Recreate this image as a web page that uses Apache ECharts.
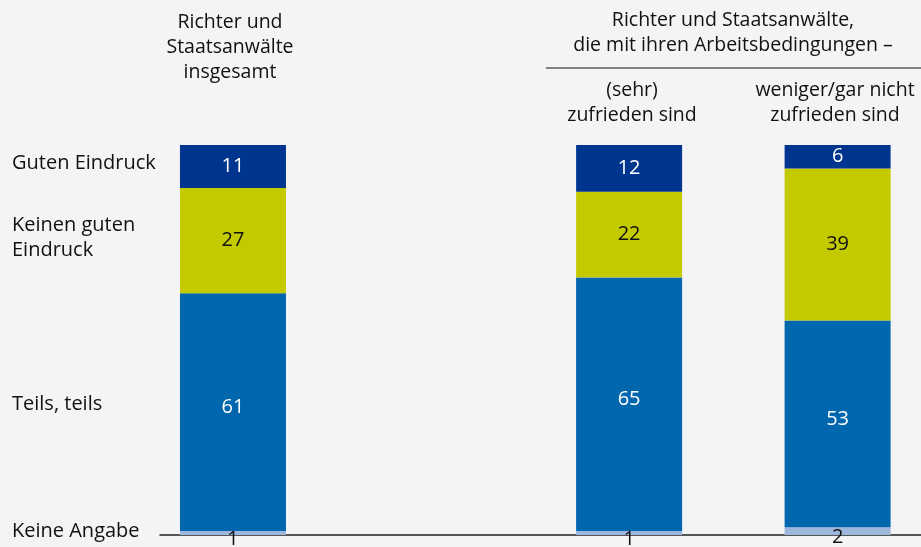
<!DOCTYPE html>
<html>
<head>
<meta charset="utf-8">
<script src="https://cdn.jsdelivr.net/npm/echarts@6/dist/echarts.min.js"></script>
<style>
html,body{margin:0;padding:0;background:#F4F4F7;}
#c{width:921px;height:547px;}
</style>
</head>
<body>
<div id="c"></div>
<script>
// ---- data ----
const groups = ['Richter und Staatsanwälte insgesamt', '(sehr) zufrieden sind', 'weniger/gar nicht zufrieden sind'];
const seriesNames = ['Keine Angabe', 'Teils, teils', 'Keinen guten Eindruck', 'Guten Eindruck'];
const keineAngabe = [1, 1, 2];
const teilsTeils = [61, 65, 53];
const keinenGuten = [27, 22, 39];
const gutenEindruck = [11, 12, 6];

// ---- layout: the x axis is a row of narrow slots; each group sits on one slot ----
const SLOT_COUNT = 74;
const groupSlots = [7, 45, 65];

const FONT = '"Open Sans", "Noto Sans", sans-serif';
const colors = ['#9DB6DB', '#0066AE', '#C4CA00', '#00358F'];
const labelColors = ['#111', '#fff', '#111', '#fff'];
const labelOffsets = [[0, 6], [0, -5], [0, 0], [0, 0]];
const values = [keineAngabe, teilsTeils, keinenGuten, gutenEindruck];

const categories = [];
for (let i = 0; i < SLOT_COUNT; i++) {
  const g = groupSlots.indexOf(i);
  categories.push(g >= 0 ? groups[g] : '');
}
function spread(arr) {
  const out = [];
  for (let i = 0; i < SLOT_COUNT; i++) {
    const g = groupSlots.indexOf(i);
    out.push(g >= 0 ? arr[g] : null);
  }
  return out;
}

const chart = echarts.init(document.getElementById('c'), null, {renderer: 'canvas'});

const series = seriesNames.map((name, s) => ({
  name: name,
  type: 'bar',
  stack: 'total',
  barWidth: 106,
  itemStyle: {color: colors[s]},
  label: {
    show: true,
    position: 'inside',
    offset: labelOffsets[s],
    color: labelColors[s],
    fontFamily: FONT,
    fontSize: 20
  },
  data: spread(values[s])
}));

function txt(text, x, y, align, size, lh) {
  return {
    type: 'text',
    style: {
      text: text, x: x, y: y,
      textAlign: align, textVerticalAlign: 'middle',
      fill: '#111',
      font: size + 'px ' + FONT,
      lineHeight: lh || size * 1.3
    }
  };
}

chart.setOption({
  backgroundColor: '#F4F4F7',
  animation: false,
  grid: {left: 160, right: 0, top: 145, bottom: 12},
  xAxis: {
    type: 'category', data: categories, boundaryGap: false,
    axisLine: {show: true, lineStyle: {color: '#222', width: 1.5}},
    axisTick: {show: false}, axisLabel: {show: false}, splitLine: {show: false}
  },
  yAxis: {type: 'value', min: 0, max: 100, show: false},
  series: series,
  graphic: [
    txt('Richter und\nStaatsanwälte\ninsgesamt', 230, 47, 'center', 19.5, 25),
    txt('Richter und Staatsanwälte,\ndie mit ihren Arbeitsbedingungen –', 733, 33, 'center', 19.5, 25),
    {type: 'line', shape: {x1: 546, y1: 68, x2: 921, y2: 68}, style: {stroke: '#111', lineWidth: 1.2}},
    txt('(sehr)\nzufrieden sind', 632, 103, 'center', 19.5, 25),
    txt('weniger/gar nicht\nzufrieden sind', 835, 103, 'center', 19.5, 25),
    txt('Guten Eindruck', 12, 163, 'left', 20),
    txt('Keinen guten\nEindruck', 12, 238, 'left', 20, 25),
    txt('Teils, teils', 12, 404, 'left', 20),
    txt('Keine Angabe', 12, 531, 'left', 20)
  ]
});
</script>
</body>
</html>
